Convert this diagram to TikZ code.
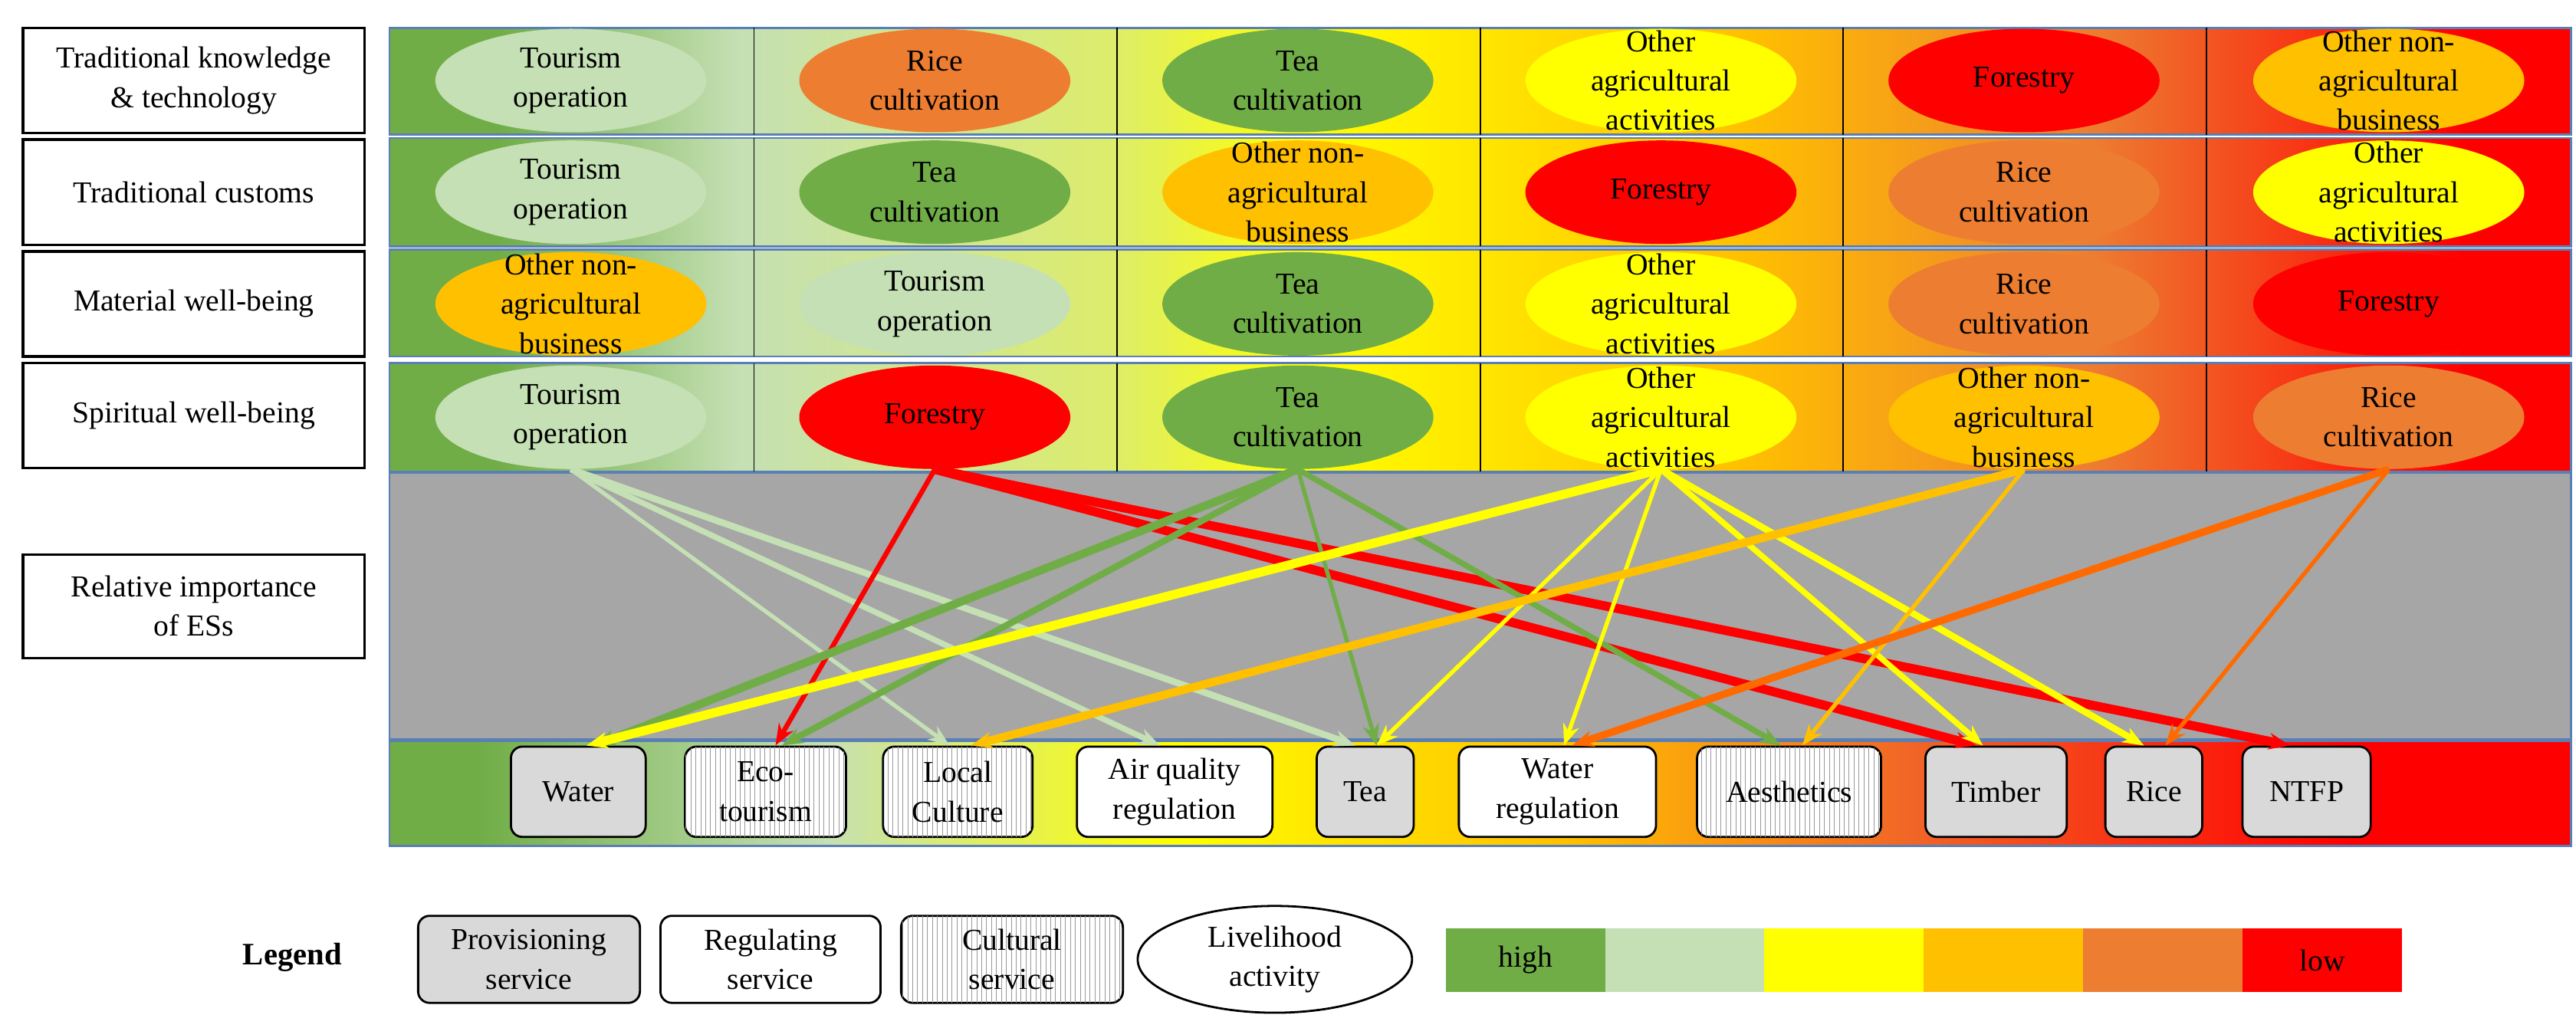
\documentclass[tikz,border=0pt]{standalone}
\usepackage{fontspec}
\setmainfont{Liberation Serif}
\newfontfamily\tnr{Liberation Serif}
\usetikzlibrary{shapes.geometric,arrows.meta,patterns}
\definecolor{DG}{HTML}{70AD47}
\definecolor{LG}{HTML}{C5E0B4}
\definecolor{YE}{HTML}{FFFF00}
\definecolor{GO}{HTML}{FFC000}
\definecolor{OR}{HTML}{ED7D31}
\definecolor{OA}{HTML}{FF6A00}
\definecolor{RE}{HTML}{FF0000}
\definecolor{GR}{HTML}{A6A6A6}
\definecolor{PG}{HTML}{D9D9D9}
\definecolor{BL}{HTML}{5A7FB5}
\pgfdeclarehorizontalshading{topgrad}{100bp}{color(0bp)=(DG); color(27.5bp)=(DG); color(33bp)=(LG); color(41.5bp)=(LG!60!YE); color(46bp)=(YE); color(56bp)=(GO); color(64bp)=(OR); color(72.5bp)=(RE); color(100bp)=(RE)}
\pgfdeclarehorizontalshading{botgrad}{100bp}{color(0bp)=(DG); color(27bp)=(DG); color(35bp)=(LG); color(43bp)=(YE); color(52bp)=(GO); color(60bp)=(OR!80!RE); color(70bp)=(RE); color(100bp)=(RE)}
\tikzset{
  txt/.style={font=\tnr\fontsize{18.5}{24}\selectfont, align=center},
  act/.style={ellipse, minimum width=165pt, minimum height=63pt, inner sep=0pt},
  lab/.style={draw, line width=1.6pt, txt, minimum width=208pt, inner sep=0pt, fill=white},
  es/.style={draw, line width=1.3pt, rounded corners=7pt, txt, minimum height=55pt, inner sep=0pt},
  prov/.style={es, fill=PG},
  reg/.style={es, fill=white},
  cult/.style={es, fill=white, postaction={pattern=vertical lines, pattern color=gray!80}},
  arr/.style={-{Stealth[length=13pt,width=10pt]}},
  band/.style={draw=BL, line width=1.2pt, shading=topgrad},
}
\newcommand{\actnode}[5]{\node[act, fill=#4] (#1) at (#2,#3) {}; \node[txt] at (#1.center) {#5};}
\begin{document}
\begin{tikzpicture}[x=1pt,y=-1pt]
\useasboundingbox (0,0) rectangle (1568,625.4);
% label boxes
\node[lab, minimum height=64pt] (l1) at (118,49) {Traditional knowledge\\\& technology};
\node[lab, minimum height=64pt] (l2) at (118,117) {Traditional customs};
\node[lab, minimum height=64pt] (l3) at (118,185) {Material well-being};
\node[lab, minimum height=64pt] (l4) at (118,253) {Spiritual well-being};
\node[lab, minimum height=63pt] (l5) at (118,369) {Relative importance\\of ESs};
% bands
\foreach \t/\b in {17/82,84/150,152/217,221/287}{
  \path[band] (237,\t) rectangle (1565,\b);
  \foreach \c in {459,680,901,1122,1343} \draw[line width=0.8pt] (\c,\t) -- (\c,\b);
}
% row 1
\actnode{a11}{347.5}{49}{LG}{Tourism\\operation}
\actnode{a12}{569}{49}{OR}{Rice\\cultivation}
\actnode{a13}{790}{49}{DG}{Tea\\cultivation}
\actnode{a14}{1011}{49}{YE}{Other\\agricultural\\activities}
\actnode{a15}{1232}{49}{RE}{Forestry}
\actnode{a16}{1454}{49}{GO}{Other non-\\agricultural\\business}
% row 2
\actnode{a21}{347.5}{117}{LG}{Tourism\\operation}
\actnode{a22}{569}{117}{DG}{Tea\\cultivation}
\actnode{a23}{790}{117}{GO}{Other non-\\agricultural\\business}
\actnode{a24}{1011}{117}{RE}{Forestry}
\actnode{a25}{1232}{117}{OR}{Rice\\cultivation}
\actnode{a26}{1454}{117}{YE}{Other\\agricultural\\activities}
% row 3
\actnode{a31}{347.5}{185}{GO}{Other non-\\agricultural\\business}
\actnode{a32}{569}{185}{LG}{Tourism\\operation}
\actnode{a33}{790}{185}{DG}{Tea\\cultivation}
\actnode{a34}{1011}{185}{YE}{Other\\agricultural\\activities}
\actnode{a35}{1232}{185}{OR}{Rice\\cultivation}
\actnode{a36}{1454}{185}{RE}{Forestry}
% grey and bottom band
\path[draw=BL, line width=1.2pt, fill=GR] (237,288) rectangle (1565,450);
\path[draw=BL, line width=1.2pt, shading=botgrad] (237,451) rectangle (1565,515);
% row 4
\actnode{a41}{347.5}{254}{LG}{Tourism\\operation}
\actnode{a42}{569}{254}{RE}{Forestry}
\actnode{a43}{790}{254}{DG}{Tea\\cultivation}
\actnode{a44}{1011}{254}{YE}{Other\\agricultural\\activities}
\actnode{a45}{1232}{254}{GO}{Other non-\\agricultural\\business}
\actnode{a46}{1454}{254}{OR}{Rice\\cultivation}
% ES boxes
\node[prov, minimum width=82pt] (water) at (352,482) {Water};
\node[cult, minimum width=98pt] (eco) at (466,482) {Eco-\\tourism};
\node[cult, minimum width=91pt] (loc) at (583,482) {Local\\Culture};
\node[reg, minimum width=119pt] (air) at (715,482) {Air quality\\regulation};
\node[prov, minimum width=59pt] (tea) at (831,482) {Tea};
\node[reg, minimum width=120pt] (wreg) at (948,482) {Water\\regulation};
\node[cult, minimum width=112pt] (aes) at (1089,482) {Aesthetics};
\node[prov, minimum width=86pt] (tim) at (1215,482) {Timber};
\node[prov, minimum width=59pt] (rice) at (1311,482) {Rice};
\node[prov, minimum width=78pt] (ntfp) at (1404,482) {NTFP};
% arrows
\draw[arr, LG, line width=2.5pt] (a41.south) -- ([xshift=-5pt]loc.north);
\draw[arr, LG, line width=3.5pt] (a41.south) -- ([xshift=-9pt]air.north);
\draw[arr, LG, line width=4pt] (a41.south) -- ([xshift=-6pt]tea.north);
\draw[arr, RE, line width=3pt] (a42.south) -- ([xshift=6pt]eco.north);
\draw[arr, RE, line width=5.5pt] (a42.south) -- ([xshift=-12pt]tim.north);
\draw[arr, RE, line width=5.5pt] (a42.south) -- ([xshift=-10pt]ntfp.north);
\draw[arr, DG, line width=5pt] (a43.south) -- ([xshift=10pt]water.north);
\draw[arr, DG, line width=4pt] (a43.south) -- ([xshift=10pt]eco.north);
\draw[arr, DG, line width=2.5pt] (a43.south) -- ([xshift=7pt]tea.north);
\draw[arr, DG, line width=3.5pt] (a43.south) -- ([xshift=-5pt]aes.north);
\draw[arr, YE, line width=5.5pt] (a44.south) -- ([xshift=5pt]water.north);
\draw[arr, YE, line width=2.5pt] (a44.south) -- ([xshift=7pt]tea.north);
\draw[arr, YE, line width=2.5pt] (a44.south) -- ([xshift=4pt]wreg.north);
\draw[arr, YE, line width=3.5pt] (a44.south) -- ([xshift=-8pt]tim.north);
\draw[arr, YE, line width=4pt] (a44.south) -- ([xshift=-6pt]rice.north);
\draw[arr, GO, line width=5pt] (a45.south) -- ([xshift=8pt]loc.north);
\draw[arr, GO, line width=2.5pt] (a45.south) -- ([xshift=8pt]aes.north);
\draw[arr, OA, line width=4.5pt] (a46.south) -- ([xshift=9pt]wreg.north);
\draw[arr, OA, line width=2.5pt] (a46.south) -- ([xshift=7pt]rice.north);
% legend
\node[txt, font=\tnr\fontsize{19}{24}\selectfont\bfseries] (leg) at (178,583) {Legend};
\node[prov, minimum width=135pt, minimum height=53pt] (lp) at (322,584) {Provisioning\\service};
\node[reg, minimum width=134pt, minimum height=53pt] (lr) at (469,584) {Regulating\\service};
\node[cult, minimum width=135pt, minimum height=53pt] (lc) at (616,584) {Cultural\\service};
\node[act, draw, line width=1.3pt, minimum width=167pt, minimum height=65pt, fill=white] (le) at (776,584) {};
\node[txt] at (le.center) {Livelihood\\activity};
\foreach \c [count=\i from 0] in {DG,LG,YE,GO,OR,RE}
  \fill[\c] (880+97*\i,565) rectangle (977+97*\i,604);
\node[txt] (hi) at (928.5,584.5) {high};
\node[txt] (lo) at (1413.5,584.5) {low};
\end{tikzpicture}
\end{document}
